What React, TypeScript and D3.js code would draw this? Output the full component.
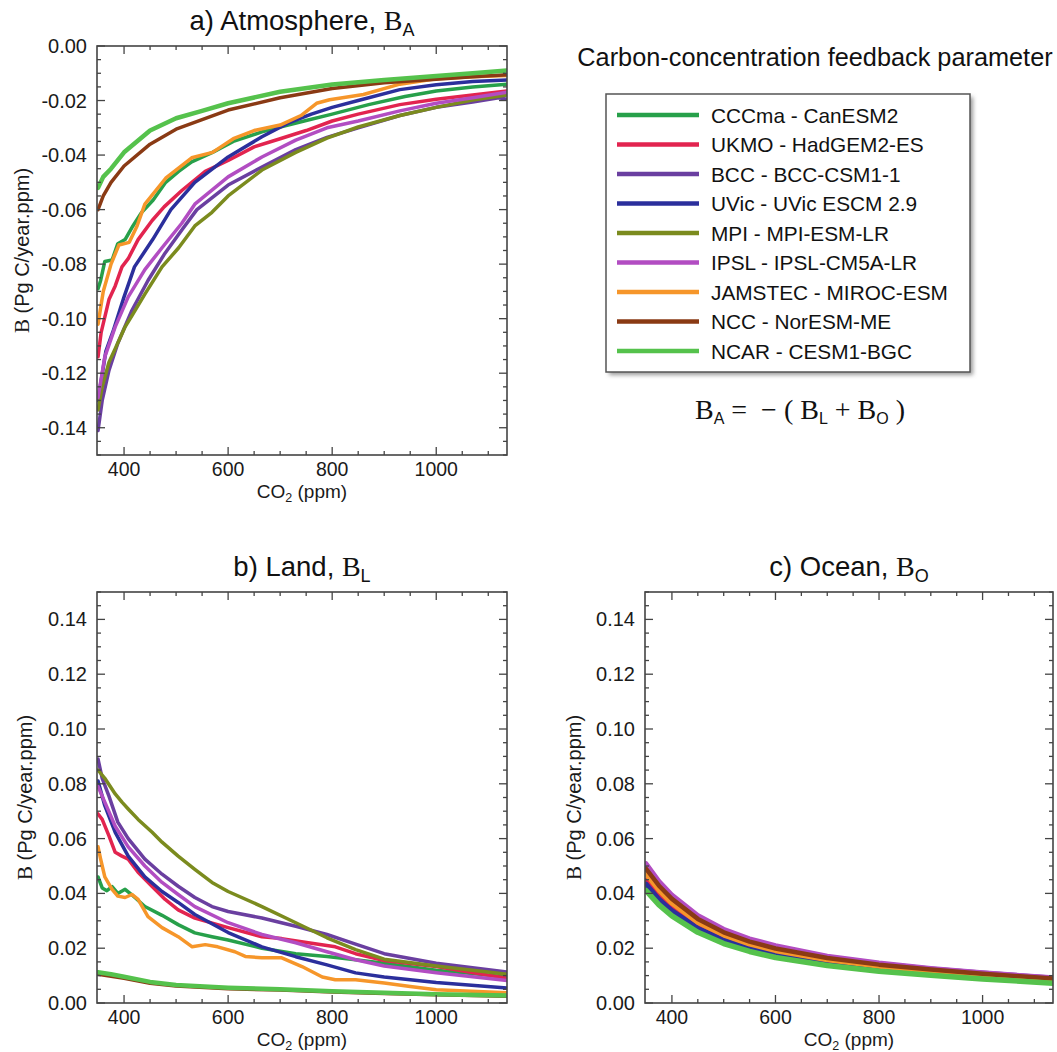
import React from 'react';
import * as d3 from 'd3';

type Pt = [number, number];

const models = [
  'CCCma - CanESM2',
  'UKMO - HadGEM2-ES',
  'BCC - BCC-CSM1-1',
  'UVic - UVic ESCM 2.9',
  'MPI - MPI-ESM-LR',
  'IPSL - IPSL-CM5A-LR',
  'JAMSTEC - MIROC-ESM',
  'NCC - NorESM-ME',
  'NCAR - CESM1-BGC',
];
const colors = ['#27a04a', '#e2244f', '#6a3fa0', '#2b2f9c', '#7b8b1e', '#b24dc2', '#f6962a', '#8a3a14', '#55c24c'];

// ---- a) Atmosphere (CO2 ppm, B) ----
const atmCCCma: Pt[] = [[350,-0.089],[355,-0.086],[363,-0.079],[377,-0.0785],[388,-0.0725],[402,-0.071],[417,-0.066],[434,-0.061],[456,-0.0565],[480,-0.050],[505,-0.046],[530,-0.0425],[570,-0.039],[610,-0.035],[665,-0.0315],[700,-0.0297],[750,-0.0273],[800,-0.025],[870,-0.0215],[940,-0.0185],[1000,-0.0165],[1070,-0.015],[1136,-0.014]];
const atmUKMO: Pt[] = [[350,-0.114],[356,-0.105],[371,-0.093],[383,-0.088],[396,-0.081],[408,-0.078],[427,-0.071],[454,-0.064],[477,-0.059],[511,-0.053],[556,-0.046],[600,-0.042],[650,-0.037],[700,-0.034],[750,-0.031],[800,-0.0275],[850,-0.025],[930,-0.0215],[1000,-0.0195],[1070,-0.018],[1136,-0.0165]];
const atmBCC: Pt[] = [[350,-0.141],[358,-0.130],[371,-0.119],[388,-0.109],[415,-0.097],[446,-0.086],[477,-0.0765],[511,-0.0675],[540,-0.060],[600,-0.051],[665,-0.0444],[730,-0.038],[790,-0.0335],[850,-0.030],[930,-0.0255],[1000,-0.0225],[1070,-0.0205],[1120,-0.019],[1136,-0.0195]];
const atmUVic: Pt[] = [[350,-0.130],[365,-0.112],[380,-0.104],[400,-0.092],[420,-0.081],[455,-0.071],[490,-0.060],[536,-0.050],[600,-0.0407],[665,-0.0333],[715,-0.0283],[760,-0.025],[800,-0.0225],[850,-0.020],[930,-0.016],[1000,-0.0142],[1070,-0.013],[1136,-0.0125]];
const atmMPI: Pt[] = [[350,-0.1335],[358,-0.125],[371,-0.116],[383,-0.111],[402,-0.103],[415,-0.099],[440,-0.091],[473,-0.081],[505,-0.074],[536,-0.066],[569,-0.061],[600,-0.055],[665,-0.0455],[730,-0.039],[790,-0.0338],[850,-0.0297],[930,-0.0255],[1000,-0.0225],[1070,-0.0198],[1136,-0.018]];
const atmIPSL: Pt[] = [[350,-0.129],[363,-0.114],[383,-0.103],[408,-0.092],[440,-0.082],[473,-0.074],[511,-0.065],[536,-0.058],[600,-0.048],[665,-0.0407],[730,-0.0345],[790,-0.030],[850,-0.0275],[930,-0.0238],[1000,-0.021],[1070,-0.019],[1136,-0.017]];
const atmJAMSTEC: Pt[] = [[350,-0.102],[360,-0.090],[375,-0.080],[390,-0.073],[410,-0.072],[425,-0.066],[440,-0.058],[480,-0.0485],[530,-0.041],[570,-0.039],[610,-0.034],[650,-0.031],[700,-0.029],[740,-0.0255],[770,-0.021],[795,-0.0197],[860,-0.0178],[930,-0.014],[1000,-0.012],[1070,-0.0113],[1136,-0.0108]];
const atmNCC: Pt[] = [[350,-0.060],[360,-0.055],[375,-0.050],[400,-0.044],[450,-0.036],[500,-0.0305],[550,-0.027],[600,-0.0235],[700,-0.019],[800,-0.0156],[900,-0.0135],[1000,-0.0122],[1070,-0.0113],[1136,-0.0105]];
const atmNCAR: Pt[] = [[350,-0.052],[360,-0.048],[375,-0.045],[400,-0.039],[450,-0.031],[500,-0.0265],[550,-0.0238],[600,-0.021],[700,-0.0168],[800,-0.0141],[900,-0.0125],[1000,-0.011],[1070,-0.010],[1136,-0.009]];

// ---- b) Land ----
const lndCCCma: Pt[] = [[350,0.046],[358,0.042],[367,0.041],[377,0.0425],[388,0.040],[402,0.0415],[415,0.0395],[440,0.0352],[473,0.032],[504,0.0286],[536,0.0256],[569,0.0242],[600,0.023],[665,0.020],[730,0.018],[790,0.017],[845,0.0158],[900,0.0145],[1000,0.012],[1136,0.0095]];
const lndUKMO: Pt[] = [[350,0.069],[358,0.067],[371,0.061],[383,0.055],[396,0.0536],[408,0.0525],[427,0.0477],[454,0.0425],[479,0.0378],[504,0.034],[536,0.031],[600,0.0275],[665,0.0242],[703,0.0235],[754,0.022],[806,0.0205],[845,0.018],[900,0.0155],[1000,0.0133],[1136,0.009]];
const lndBCC: Pt[] = [[350,0.089],[358,0.082],[371,0.0755],[388,0.066],[408,0.060],[440,0.0525],[473,0.047],[504,0.0426],[536,0.0385],[569,0.0352],[600,0.0334],[665,0.031],[730,0.028],[790,0.025],[845,0.0215],[900,0.018],[1000,0.0145],[1136,0.0113]];
const lndUVic: Pt[] = [[350,0.081],[363,0.072],[383,0.0623],[408,0.0536],[440,0.046],[473,0.0407],[504,0.0367],[536,0.0323],[600,0.0257],[665,0.0205],[730,0.0169],[790,0.0139],[845,0.011],[900,0.0095],[1000,0.0075],[1136,0.0055]];
const lndMPI: Pt[] = [[350,0.085],[363,0.082],[383,0.0763],[396,0.0733],[408,0.0708],[427,0.067],[454,0.0623],[473,0.0587],[504,0.0536],[536,0.0488],[569,0.044],[600,0.0407],[665,0.0352],[730,0.0293],[790,0.0238],[845,0.0195],[900,0.016],[1000,0.0135],[1136,0.0105]];
const lndIPSL: Pt[] = [[350,0.079],[363,0.0733],[383,0.0645],[408,0.057],[440,0.050],[473,0.044],[504,0.0396],[536,0.0352],[600,0.0293],[665,0.025],[730,0.022],[790,0.0187],[845,0.0158],[900,0.0135],[1000,0.011],[1136,0.0082]];
const lndJAMSTEC: Pt[] = [[350,0.057],[355,0.0525],[363,0.046],[377,0.0415],[388,0.039],[402,0.0385],[415,0.0396],[427,0.0378],[446,0.0315],[473,0.0275],[504,0.0242],[531,0.0205],[556,0.0213],[580,0.0205],[613,0.0187],[633,0.017],[665,0.0165],[703,0.0165],[742,0.0133],[781,0.0095],[806,0.0085],[845,0.0085],[900,0.0073],[950,0.006],[1000,0.0048],[1136,0.0037]];
const lndNCC: Pt[] = [[350,0.0105],[375,0.0098],[400,0.009],[450,0.0072],[500,0.0062],[600,0.0052],[700,0.0047],[800,0.004],[900,0.0035],[1000,0.003],[1136,0.0025]];
const lndNCAR: Pt[] = [[350,0.0112],[375,0.0105],[400,0.0096],[450,0.0077],[500,0.0066],[600,0.0056],[700,0.005],[800,0.0043],[900,0.0037],[1000,0.0032],[1136,0.0027]];

// ---- c) Ocean ----
const oceanCO2 = [350, 375, 400, 450, 500, 550, 600, 700, 800, 900, 1000, 1136];
const ocnCCCma = [0.042, 0.0368, 0.0327, 0.0265, 0.0223, 0.0193, 0.0171, 0.0141, 0.012, 0.0104, 0.0091, 0.0075];
const ocnUKMO = [0.045, 0.0395, 0.035, 0.0284, 0.024, 0.0208, 0.0185, 0.0153, 0.013, 0.0113, 0.0099, 0.0083];
const ocnBCC = [0.0505, 0.044, 0.039, 0.0315, 0.0265, 0.023, 0.0205, 0.0169, 0.0144, 0.0125, 0.011, 0.0092];
const ocnUVic = [0.0435, 0.038, 0.0338, 0.0274, 0.0231, 0.02, 0.0178, 0.0147, 0.0125, 0.0108, 0.0095, 0.0078];
const ocnMPI = [0.0485, 0.0423, 0.0375, 0.0303, 0.0255, 0.0221, 0.0196, 0.0162, 0.0138, 0.012, 0.0105, 0.0088];
const ocnIPSL = [0.051, 0.0445, 0.0395, 0.032, 0.027, 0.0235, 0.021, 0.0172, 0.0147, 0.0127, 0.0111, 0.0093];
const ocnJAMSTEC = [0.047, 0.041, 0.0363, 0.0293, 0.0247, 0.0214, 0.019, 0.0157, 0.0133, 0.0116, 0.0102, 0.0085];
const ocnNCC = [0.049, 0.0428, 0.038, 0.0307, 0.0258, 0.0224, 0.0199, 0.0164, 0.014, 0.0122, 0.0107, 0.0089];
const ocnNCAR = [0.041, 0.0358, 0.0318, 0.0258, 0.0217, 0.0188, 0.0166, 0.0137, 0.0116, 0.0101, 0.0088, 0.0072];

const xMajorTicks = [400, 600, 800, 1000];
const xMinorTicks = [450, 500, 550, 650, 700, 750, 850, 900, 950, 1050, 1100];
const yTicksA = [0, -0.02, -0.04, -0.06, -0.08, -0.1, -0.12, -0.14];
const yTickLabelsA = ['0.00', '-0.02', '-0.04', '-0.06', '-0.08', '-0.10', '-0.12', '-0.14'];
const yTicksBC = [0, 0.02, 0.04, 0.06, 0.08, 0.1, 0.12, 0.14];
const yTickLabelsBC = ['0.00', '0.02', '0.04', '0.06', '0.08', '0.10', '0.12', '0.14'];

const atmSeries = [atmCCCma, atmUKMO, atmBCC, atmUVic, atmMPI, atmIPSL, atmJAMSTEC, atmNCC, atmNCAR];
const lndSeries = [lndCCCma, lndUKMO, lndBCC, lndUVic, lndMPI, lndIPSL, lndJAMSTEC, lndNCC, lndNCAR];
const ocnSeries: Pt[][] = [ocnCCCma, ocnUKMO, ocnBCC, ocnUVic, ocnMPI, ocnIPSL, ocnJAMSTEC, ocnNCC, ocnNCAR]
  .map(vals => vals.map((v, i) => [oceanCO2[i], v] as Pt));

const SANS = '"Liberation Sans", Arial, Helvetica, sans-serif';
const SERIF = '"Liberation Serif", "Times New Roman", serif';

interface PanelProps {
  id: string;
  left: number; top: number; width: number; height: number;
  yDomain: [number, number];
  yTicks: number[]; yLabels: string[];
  series: Pt[][];
  title: string; sub: string;
  ylabelX: number;
  lw: number;
}

function Panel(p: PanelProps) {
  const x = d3.scaleLinear().domain([348, 1136]).range([p.left, p.left + p.width]);
  const y = d3.scaleLinear().domain(p.yDomain).range([p.top + p.height, p.top]);
  const line = d3.line<Pt>().x(d => x(d[0])).y(d => y(d[1])).curve(d3.curveLinear);
  const yMinor = d3.range(Math.round((p.yDomain[0]) / 0.005), Math.round(p.yDomain[1] / 0.005) + 1)
    .map(k => k * 0.005)
    .filter(v => !p.yTicks.some(t => Math.abs(t - v) < 1e-6));
  const L = p.left, R = p.left + p.width, T = p.top, B = p.top + p.height;
  const tc = '#444';
  const cx = (L + R) / 2;
  return (
    <g>
      <defs>
        <clipPath id={'clip-' + p.id}><rect x={L} y={T} width={p.width} height={p.height} /></clipPath>
      </defs>
      <g clipPath={`url(#clip-${p.id})`} fill="none" strokeLinejoin="round" strokeLinecap="round">
        {p.series.map((s, i) => (
          <path key={i} d={line(s) || ''} stroke={colors[i]} strokeWidth={i === 8 ? p.lw + 1 : p.lw} />
        ))}
      </g>
      {/* ticks */}
      <g stroke={tc} strokeWidth={1.3}>
        {xMajorTicks.map(t => (
          <g key={'xM' + t}>
            <line x1={x(t)} x2={x(t)} y1={B} y2={B - 8} />
            <line x1={x(t)} x2={x(t)} y1={T} y2={T + 8} />
          </g>
        ))}
        {xMinorTicks.map(t => (
          <g key={'xm' + t}>
            <line x1={x(t)} x2={x(t)} y1={B} y2={B - 4} />
            <line x1={x(t)} x2={x(t)} y1={T} y2={T + 4} />
          </g>
        ))}
        {p.yTicks.map(t => (
          <g key={'yM' + t}>
            <line x1={L} x2={L + 8} y1={y(t)} y2={y(t)} />
            <line x1={R} x2={R - 8} y1={y(t)} y2={y(t)} />
          </g>
        ))}
        {yMinor.map(t => (
          <g key={'ym' + t}>
            <line x1={L} x2={L + 4} y1={y(t)} y2={y(t)} />
            <line x1={R} x2={R - 4} y1={y(t)} y2={y(t)} />
          </g>
        ))}
      </g>
      <rect x={L} y={T} width={p.width} height={p.height} fill="none" stroke={tc} strokeWidth={1.6} />
      {/* tick labels */}
      <g fontFamily={SANS} fontSize={20} fill="#1a1a1a">
        {xMajorTicks.map(t => (
          <text key={'xl' + t} x={x(t)} y={B + 21} textAnchor="middle" fontSize={19.5}>{t}</text>
        ))}
        {p.yTicks.map((t, i) => (
          <text key={'yl' + t} x={L - 10} y={y(t) + 7} textAnchor="end">{p.yLabels[i]}</text>
        ))}
        <text x={cx} y={B + 43} textAnchor="middle" fontSize={19}>
          <tspan>CO</tspan><tspan fontSize={12.5} dy={4}>2</tspan><tspan dy={-4}> (ppm)</tspan>
        </text>
        <text transform={`translate(${p.ylabelX},${(T + B) / 2}) rotate(-90)`} textAnchor="middle">
          <tspan fontFamily={SERIF} fontSize={21}>B</tspan><tspan> (Pg C/year.ppm)</tspan>
        </text>
      </g>
      <text x={cx} y={T - 16} textAnchor="middle" fontFamily={SANS} fontSize={27.5} fill="#111">
        <tspan>{p.title}</tspan>
        <tspan fontFamily={SERIF} fontSize={28}>B</tspan>
        <tspan fontSize={18} dy={6}>{p.sub}</tspan>
      </text>
    </g>
  );
}

function Legend() {
  const rowY = d3.scaleLinear().domain([0, 8]).range([115, 351]);
  return (
    <g>
      <text x={815} y={66} textAnchor="middle" fontFamily={SANS} fontSize={25.3} fill="#111">
        Carbon-concentration feedback parameter
      </text>
      <defs>
        <filter id="shadow" x="-10%" y="-10%" width="130%" height="130%">
          <feGaussianBlur stdDeviation="2" />
        </filter>
      </defs>
      <rect x={609} y={97} width={364} height={278} fill="#999" filter="url(#shadow)" />
      <rect x={606} y={94} width={364} height={278} fill="#fff" stroke="#555" strokeWidth={1.5} />
      {models.map((m, i) => (
        <g key={m}>
          <line x1={617} x2={699} y1={rowY(i)} y2={rowY(i)} stroke={colors[i]} strokeWidth={4.5} />
          <text x={711} y={rowY(i) + 7.5} fontFamily={SANS} fontSize={20.8} fill="#111">{m}</text>
        </g>
      ))}
      <text x={800} y={419} textAnchor="middle" fontFamily={SERIF} fontSize={28} fill="#111" xmlSpace="preserve">
        <tspan>B</tspan><tspan fontFamily={SANS} fontSize={16} dy={5}>A</tspan>
        <tspan dy={-5}>{' =  \u2212 ( B'}</tspan><tspan fontFamily={SANS} fontSize={16} dy={5}>L</tspan>
        <tspan dy={-5}>{' + B'}</tspan><tspan fontFamily={SANS} fontSize={16} dy={5}>O</tspan>
        <tspan dy={-5}>{' )'}</tspan>
      </text>
    </g>
  );
}

export default function App() {
  return (
    <svg width={1057} height={1052} viewBox="0 0 1057 1052"
      style={{ position: 'absolute', left: 0, top: 0, display: 'block', background: '#fff' }}>
      <rect x={0} y={0} width={1057} height={1052} fill="#fff" />
      <Panel id="a" left={97} top={46} width={410} height={409} yDomain={[-0.15, 0]}
        yTicks={yTicksA} yLabels={yTickLabelsA} series={atmSeries}
        title="a) Atmosphere, " sub="A" ylabelX={29} lw={3.5} />
      <Panel id="b" left={97} top={592} width={410} height={411} yDomain={[0, 0.15]}
        yTicks={yTicksBC} yLabels={yTickLabelsBC} series={lndSeries}
        title="b) Land, " sub="L" ylabelX={32} lw={3.5} />
      <Panel id="c" left={645} top={592} width={408} height={411} yDomain={[0, 0.15]}
        yTicks={yTicksBC} yLabels={yTickLabelsBC} series={ocnSeries}
        title="c) Ocean, " sub="O" ylabelX={581} lw={4.5} />
      <Legend />
    </svg>
  );
}
